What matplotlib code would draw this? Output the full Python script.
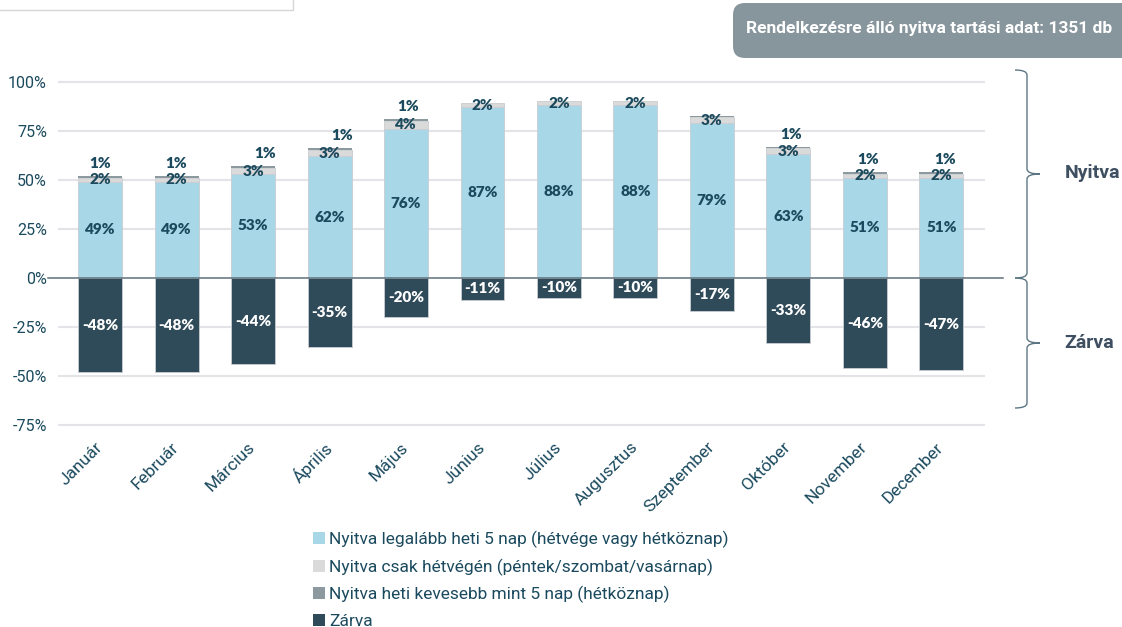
import numpy as np
import matplotlib
matplotlib.use("Agg")
import matplotlib.pyplot as plt
from matplotlib.patches import Patch, FancyBboxPatch, Rectangle, PathPatch
from matplotlib.path import Path

months = ["Január", "Február", "Március", "Április", "Május", "Június",
          "Július", "Augusztus", "Szeptember", "Október", "November", "December"]
open5 = [49, 49, 53, 62, 76, 87, 88, 88, 79, 63, 51, 51]
weekend = [2, 2, 3, 3, 4, 2, 2, 2, 3, 3, 2, 2]
fewer = [1, 1, 1, 1, 1, 0, 0, 0, 0.5, 1, 1, 1]
closed = [-48, -48, -44, -35, -20, -11, -10, -10, -17, -33, -46, -47]
yticks = [100, 75, 50, 25, 0, -25, -50, -75]
legend_labels = ["Nyitva legalább heti 5 nap (hétvége vagy hétköznap)",
                 "Nyitva csak hétvégén (péntek/szombat/vasárnap)",
                 "Nyitva heti kevesebb mint 5 nap (hétköznap)",
                 "Zárva"]
info_text = "Rendelkezésre álló nyitva tartási adat: 1351 db"

# small horizontal nudges for the "1%" labels (px), as in the source
fewer_dx = [0, 0, 12, 13, 2, 0, 0, 0, 0, 3, 3, 4]

c_open = "#A8D7E8"
c_week = "#DADADA"
c_few = "#8C999F"
c_closed = "#2F4B5A"
c_text = "#1B4A5E"
c_grid = "#E4E4E8"

W, H = 1122, 627
fig = plt.figure(figsize=(W / 100, H / 100), dpi=100)
ax = fig.add_axes([58 / W, 1 - 431 / H, 927 / W, 361 / H])

x = np.arange(len(months))
bw = 0.575
edge = dict(edgecolor="#C9CDD1", linewidth=0.6)
bottom_w = np.array(open5)
bottom_f = bottom_w + np.array(weekend)
ax.bar(x, open5, bw, color=c_open, zorder=3, **edge)
ax.bar(x, weekend, bw, bottom=bottom_w, color=c_week, zorder=3, **edge)
ax.bar(x, fewer, bw, bottom=bottom_f, color=c_few, zorder=3, linewidth=0)
ax.bar(x, closed, bw, color=c_closed, zorder=3, **edge)

lab = dict(family="Lato", fontweight="heavy", fontsize=11, ha="center", va="center", zorder=5)
for i in range(len(months)):
    ax.text(x[i], open5[i] / 2, f"{open5[i]}%", color=c_text, **lab)
    ax.text(x[i], open5[i] + weekend[i] / 2, f"{weekend[i]}%", color=c_text, **lab)
    if fewer[i] >= 1:
        top = open5[i] + weekend[i] + fewer[i]
        ax.annotate(f"{fewer[i]:.0f}%", (x[i], top), xytext=(fewer_dx[i] * 0.72, 9),
                    textcoords="offset points", color=c_text, **lab)
    ax.text(x[i], closed[i] / 2, f"{closed[i]}%", color="white", **lab)

ax.set_xlim(-0.55, 11.57)
ax.set_ylim(-78, 106)
ax.set_yticks(yticks)
ax.set_yticklabels([f"{v}%" for v in yticks], family="Roboto", fontsize=11.5, color=c_text)
ax.set_xticks(x)
ax.set_xticklabels(months, rotation=45, ha="right", va="center", rotation_mode="anchor",
                   family="Roboto", fontsize=12.5, color=c_text)
ax.tick_params(axis="y", length=0, pad=8)
ax.tick_params(axis="x", length=0, pad=10)
for v in yticks:
    if v != 0:
        ax.axhline(v, color=c_grid, linewidth=1.5, zorder=1)
ax.axhline(0, xmin=-0.011, xmax=1.019, color="#5E727C", linewidth=1.1, zorder=4, clip_on=False)
for s in ax.spines.values():
    s.set_visible(False)

handles = [Patch(facecolor=c, edgecolor="none") for c in (c_open, c_week, c_few, c_closed)]
fig.legend(handles, legend_labels, loc="upper left", bbox_to_anchor=(297 / W, 1 - 515 / H),
           frameon=False, handlelength=0.7, handleheight=0.7, handletextpad=0.25,
           labelspacing=0.6, prop=dict(family="Roboto", size=12.5), labelcolor=c_text)

# overlay in pixel coordinates for decorations
ov = fig.add_axes([0, 0, 1, 1], zorder=-1)
ov.set_xlim(0, W)
ov.set_ylim(H, 0)
ov.axis("off")
ov.add_patch(Rectangle((-5, -5), 298, 15, facecolor="white", edgecolor="#D6D6D6", linewidth=1))
ov.add_patch(FancyBboxPatch((733, 3), 420, 55, boxstyle="round,pad=0,rounding_size=12",
                            facecolor="#87959C", edgecolor="none"))
ov.text(929, 29, info_text, ha="center", va="center", color="white",
        family="Roboto", fontweight="bold", fontsize=12.5)


def brace(y0, y1, xa=1015, xb=1027, xc=1040, r=5):
    ym = (y0 + y1) / 2
    verts = [(xa, y0), (xb, y0), (xb, y0 + r), (xb, ym - r), (xb, ym), (xc, ym),
             (xb, ym), (xb, ym + r), (xb, y1 - r), (xb, y1), (xa, y1)]
    codes = [Path.MOVETO, Path.CURVE3, Path.CURVE3, Path.LINETO, Path.CURVE3, Path.CURVE3,
             Path.CURVE3, Path.CURVE3, Path.LINETO, Path.CURVE3, Path.CURVE3]
    ov.add_patch(PathPatch(Path(verts, codes), facecolor="none", edgecolor="#5C7684", linewidth=1))


brace(70, 278)
brace(278, 408)
ov.text(1093, 173, "Nyitva", ha="center", va="center", color="#3E4F62",
        family="Roboto", fontweight="bold", fontsize=14)
ov.text(1089, 343, "Zárva", ha="center", va="center", color="#3E4F62",
        family="Roboto", fontweight="bold", fontsize=14)

fig.savefig("out.png", dpi=100)
